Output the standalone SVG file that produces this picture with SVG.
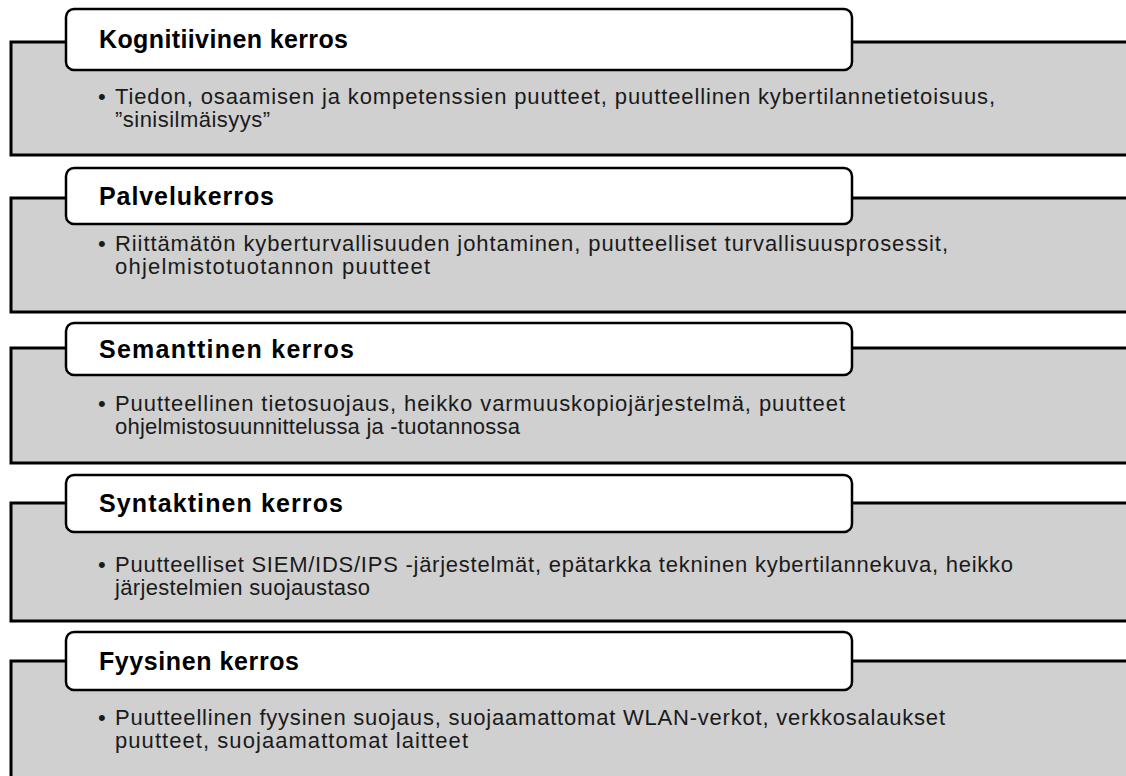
<svg xmlns="http://www.w3.org/2000/svg" width="1126" height="776" viewBox="0 0 1126 776">
<style>
.panel{fill:#d0d0d0;stroke:#000;stroke-width:3}
.tab{fill:#fff;stroke:#000;stroke-width:2.5}
.title{font-family:"Liberation Sans",Arial,sans-serif;font-weight:bold;font-size:25px;fill:#000}
.body{font-family:"Liberation Sans",Arial,sans-serif;font-size:22px;fill:#1a1a1a}
</style>
<rect width="1126" height="776" fill="#fff"/>
<g id="kognitiivinen">
<rect class="panel" x="11" y="42" width="1130" height="113"/>
<rect class="tab" x="66" y="9" width="786" height="61" rx="8"/>
<text class="title" x="99" y="47.5" textLength="249" lengthAdjust="spacing">Kognitiivinen kerros</text>
<text class="body" x="98" y="104">•</text>
<text class="body" x="115" y="104" textLength="880" lengthAdjust="spacing">Tiedon, osaamisen ja kompetenssien puutteet, puutteellinen kybertilannetietoisuus,</text>
<text class="body" x="115" y="127" textLength="155" lengthAdjust="spacing">”sinisilmäisyys”</text>
</g>
<g id="palvelu">
<rect class="panel" x="11" y="198" width="1130" height="114"/>
<rect class="tab" x="66" y="168" width="786" height="56" rx="8"/>
<text class="title" x="99" y="205" textLength="175" lengthAdjust="spacing">Palvelukerros</text>
<text class="body" x="98" y="251">•</text>
<text class="body" x="115" y="251" textLength="833" lengthAdjust="spacing">Riittämätön kyberturvallisuuden johtaminen, puutteelliset turvallisuusprosessit,</text>
<text class="body" x="115" y="274" textLength="315" lengthAdjust="spacing">ohjelmistotuotannon puutteet</text>
</g>
<g id="semanttinen">
<rect class="panel" x="11" y="348" width="1130" height="115"/>
<rect class="tab" x="66" y="323" width="786" height="52" rx="8"/>
<text class="title" x="99" y="358" textLength="255" lengthAdjust="spacing">Semanttinen kerros</text>
<text class="body" x="98" y="411">•</text>
<text class="body" x="115" y="411" textLength="730" lengthAdjust="spacing">Puutteellinen tietosuojaus, heikko varmuuskopiojärjestelmä, puutteet</text>
<text class="body" x="115" y="434" textLength="405" lengthAdjust="spacing">ohjelmistosuunnittelussa ja -tuotannossa</text>
</g>
<g id="syntaktinen">
<rect class="panel" x="11" y="503" width="1130" height="118"/>
<rect class="tab" x="66" y="475" width="786" height="57" rx="8"/>
<text class="title" x="99" y="512" textLength="244" lengthAdjust="spacing">Syntaktinen kerros</text>
<text class="body" x="98" y="572">•</text>
<text class="body" x="115" y="572" textLength="898" lengthAdjust="spacing">Puutteelliset SIEM/IDS/IPS -järjestelmät, epätarkka tekninen kybertilannekuva, heikko</text>
<text class="body" x="115" y="595" textLength="255" lengthAdjust="spacing">järjestelmien suojaustaso</text>
</g>
<g id="fyysinen">
<rect class="panel" x="11" y="661" width="1130" height="130"/>
<rect class="tab" x="66" y="632" width="786" height="58" rx="8"/>
<text class="title" x="99" y="670" textLength="200" lengthAdjust="spacing">Fyysinen kerros</text>
<text class="body" x="98" y="725">•</text>
<text class="body" x="115" y="725" textLength="830" lengthAdjust="spacing">Puutteellinen fyysinen suojaus, suojaamattomat WLAN-verkot, verkkosalaukset</text>
<text class="body" x="115" y="748" textLength="353" lengthAdjust="spacing">puutteet, suojaamattomat laitteet</text>
</g>
<g id="connectors"/>
</svg>
